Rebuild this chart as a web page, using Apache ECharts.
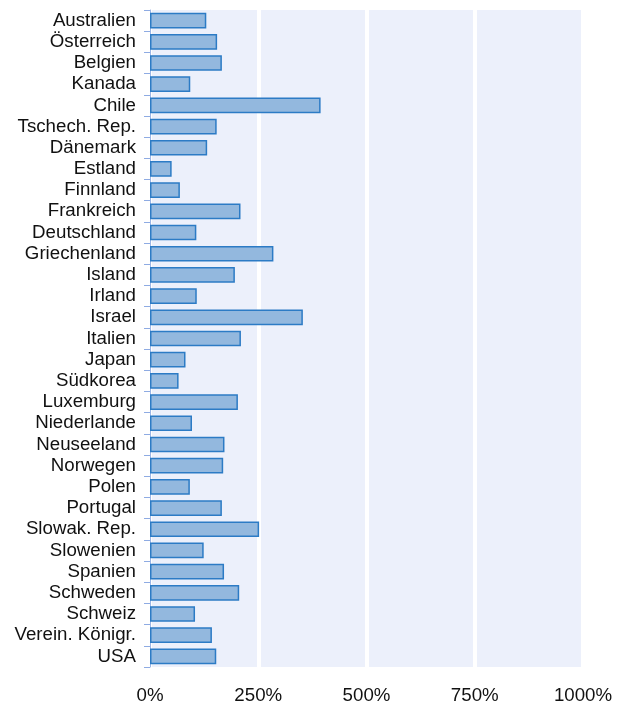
<!DOCTYPE html>
<html>
<head>
<meta charset="utf-8">
<script src="https://cdn.jsdelivr.net/npm/echarts@6/dist/echarts.min.js"></script>
<style>html,body{margin:0;padding:0;background:#fff}#c{width:623px;height:705px}</style>
</head>
<body>
<div id="c"></div>
<script>
const categories = ["Australien","Österreich","Belgien","Kanada","Chile","Tschech. Rep.","Dänemark","Estland","Finnland","Frankreich","Deutschland","Griechenland","Island","Irland","Israel","Italien","Japan","Südkorea","Luxemburg","Niederlande","Neuseeland","Norwegen","Polen","Portugal","Slowak. Rep.","Slowenien","Spanien","Schweden","Schweiz","Verein. Königr.","USA"];
const values = [130,155,166,93,394,154,132,50,69,209,107,285,196,108,353,210,82,66,203,97,172,169,92,166,252,124,171,206,104,143,153];
const xTicks = [0,250,500,750,1000];

const chart = echarts.init(document.getElementById('c'), null, {renderer:'canvas'});
chart.setOption({
  animation:false,
  grid:{left:150,right:40,top:10,bottom:38,show:true,backgroundColor:'#ecf0fb',borderWidth:0},
  xAxis:{
    type:'value',min:xTicks[0],max:xTicks[xTicks.length-1],interval:250,
    axisLine:{show:false},axisTick:{show:false},
    splitLine:{show:true,lineStyle:{color:'#ffffff',width:4}},
    axisLabel:{formatter:function(v){return v+'%';},fontFamily:'Liberation Sans, Arial, sans-serif',fontSize:18.7,color:'#111',margin:19}
  },
  yAxis:{
    type:'category',data:categories,inverse:true,
    axisLine:{show:true,lineStyle:{color:'#9cb6e6',width:1}},
    axisTick:{show:true,length:6,lineStyle:{color:'#8eabe3'}},
    axisLabel:{fontFamily:'Liberation Sans, Arial, sans-serif',fontSize:18.7,color:'#111',margin:14,interval:0},
    splitLine:{show:false}
  },
  series:[{
    type:'bar',data:values,barCategoryGap:'26%',
    itemStyle:{color:'#93b8de',borderColor:'#2c7bc5',borderWidth:1.5}
  }]
});
</script>
</body>
</html>
